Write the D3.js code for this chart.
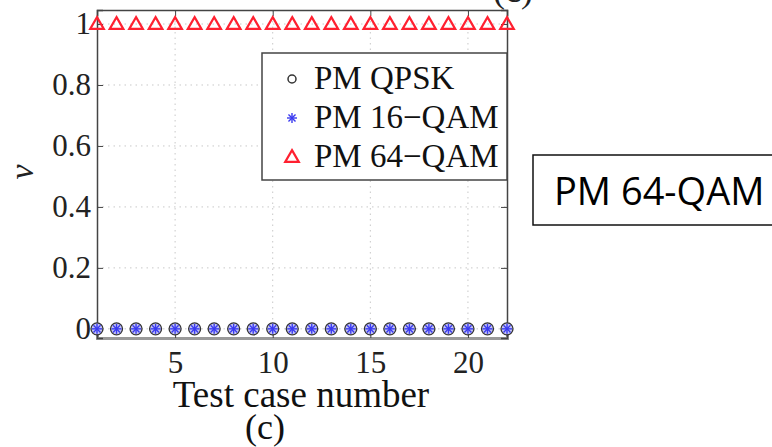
<!DOCTYPE html>
<html>
<head>
<meta charset="utf-8">
<script src="https://cdn.jsdelivr.net/npm/d3@7"></script>
<style>
  body { margin: 0; background: #fff; }
  svg { display: block; }
</style>
</head>
<body>
<svg width="772" height="447"></svg>
<script>
// test cases and detected v values per format
var testCases = [1,2,3,4,5,6,7,8,9,10,11,12,13,14,15,16,17,18,19,20,21,22];
var vQPSK  = [0,0,0,0,0,0,0,0,0,0,0,0,0,0,0,0,0,0,0,0,0,0];
var v16QAM = [0,0,0,0,0,0,0,0,0,0,0,0,0,0,0,0,0,0,0,0,0,0];
var v64QAM = [1,1,1,1,1,1,1,1,1,1,1,1,1,1,1,1,1,1,1,1,1,1];
var xTicks = [5, 10, 15, 20];
var yTicks = [0, 0.2, 0.4, 0.6, 0.8, 1];
var legendNames = ["PM QPSK", "PM 16\u2212QAM", "PM 64\u2212QAM"];

var svg = d3.select("svg"),
    margin = {top: 10, right: 265, bottom: 109, left: 97},
    width = +svg.attr("width") - margin.left - margin.right,
    height = +svg.attr("height") - margin.top - margin.bottom,
    g = svg.append("g").attr("transform", "translate(" + margin.left + "," + margin.top + ")");

var serif = "'Liberation Serif', 'Times New Roman', serif";

var x = d3.scaleLinear().domain([1, 22]).range([0, width]);
var y = d3.scaleLinear().domain([-0.03, 1.046]).range([height, 0]);

// dotted grid
g.selectAll(".gx").data(xTicks).enter().append("line")
    .attr("x1", function(d) { return x(d); }).attr("x2", function(d) { return x(d); })
    .attr("y1", 0).attr("y2", height)
    .attr("stroke", "#c8c8c8").attr("stroke-width", 1).attr("stroke-dasharray", "1.5,4");
g.selectAll(".gy").data(yTicks).enter().append("line")
    .attr("x1", 0).attr("x2", width)
    .attr("y1", function(d) { return y(d); }).attr("y2", function(d) { return y(d); })
    .attr("stroke", "#c8c8c8").attr("stroke-width", 1).attr("stroke-dasharray", "1.5,4");

// axes (inward ticks, matlab style box)
var fmt = function(d) { return d === 0 || d === 1 ? d3.format("d")(d) : d3.format(".1f")(d); };

var xAxis = g.append("g")
    .attr("transform", "translate(0," + height + ")")
    .call(d3.axisBottom(x).tickValues(xTicks).tickSize(-6).tickPadding(13));
var xTop = g.append("g")
    .call(d3.axisTop(x).tickValues(xTicks).tickSize(-6).tickFormat(""));
var yAxis = g.append("g")
    .call(d3.axisLeft(y).tickValues(yTicks).tickSize(-6).tickPadding(6).tickFormat(fmt));
var yRight = g.append("g")
    .attr("transform", "translate(" + width + ",0)")
    .call(d3.axisRight(y).tickValues(yTicks).tickSize(-6).tickFormat(""));

[xAxis, xTop, yAxis, yRight].forEach(function(a) {
  a.select(".domain").attr("stroke", "#444").attr("stroke-width", 1.5);
  a.selectAll(".tick line").attr("stroke", "#444");
  a.selectAll("text").attr("font-family", serif).attr("font-size", 31).attr("fill", "#222");
});
xAxis.select(".domain").attr("stroke", "#999").attr("stroke-width", 3);

// series
var pts = testCases.map(function(t, i) {
  return {t: t, q: vQPSK[i], a16: v16QAM[i], a64: v64QAM[i]};
});

function drawCircle(sel) {
  sel.append("circle").attr("r", 6)
      .attr("fill", "#c4c4f4").attr("stroke", "#333").attr("stroke-width", 1.3);
}
function drawStar(sel) {
  var r = 5;
  [0, 45, 90, 135].forEach(function(a) {
    var rad = a * Math.PI / 180;
    sel.append("line")
        .attr("x1", -r * Math.cos(rad)).attr("y1", -r * Math.sin(rad))
        .attr("x2", r * Math.cos(rad)).attr("y2", r * Math.sin(rad))
        .attr("stroke", "#3a3af0").attr("stroke-width", 1.4);
  });
}
var tri = d3.symbol().type(d3.symbolTriangle).size(80);
function drawTri(sel) {
  sel.append("path").attr("d", tri).attr("transform", "translate(0,1)")
      .attr("fill", "none").attr("stroke", "#ff2030").attr("stroke-width", 2.2);
}

g.selectAll(".pq").data(pts).enter().append("g")
    .attr("transform", function(d) { return "translate(" + x(d.t) + "," + y(d.q) + ")"; })
    .call(drawCircle);
g.selectAll(".p16").data(pts).enter().append("g")
    .attr("transform", function(d) { return "translate(" + x(d.t) + "," + y(d.a16) + ")"; })
    .call(drawStar);
g.selectAll(".p64").data(pts).enter().append("g")
    .attr("transform", function(d) { return "translate(" + x(d.t) + "," + y(d.a64) + ")"; })
    .call(drawTri);

// legend
var lg = svg.append("g");
lg.append("rect")
    .attr("x", 262).attr("y", 53).attr("width", 245).attr("height", 127)
    .attr("fill", "#fff").attr("stroke", "#444").attr("stroke-width", 1.5);
var drawers = [
  function(s) { s.append("circle").attr("r", 4).attr("fill", "none").attr("stroke", "#333").attr("stroke-width", 1.5); },
  drawStar,
  drawTri
];
legendNames.forEach(function(name, i) {
  var row = lg.append("g").attr("transform", "translate(0," + (79 + i * 39) + ")");
  row.append("g").attr("transform", "translate(292,0)").call(drawers[i]);
  row.append("text").attr("x", 314).attr("y", 10)
      .attr("font-family", serif).attr("font-size", 33).attr("fill", "#111")
      .text(name);
});

// axis labels
svg.append("text")
    .attr("transform", "translate(33,172) rotate(-90)")
    .attr("text-anchor", "middle")
    .attr("font-family", serif).attr("font-style", "italic").attr("font-size", 34).attr("fill", "#222")
    .text("v");
svg.append("text")
    .attr("x", 301).attr("y", 407).attr("text-anchor", "middle")
    .attr("font-family", serif).attr("font-size", 37).attr("fill", "#111")
    .text("Test case number");
svg.append("text")
    .attr("x", 265).attr("y", 439).attr("text-anchor", "middle")
    .attr("font-family", serif).attr("font-size", 36).attr("fill", "#111")
    .text("(c)");
svg.append("text")
    .attr("x", 513).attr("y", 2).attr("text-anchor", "middle")
    .attr("font-family", serif).attr("font-size", 36).attr("fill", "#222")
    .text("(c)");

// annotation box on the right
svg.append("rect")
    .attr("x", 533).attr("y", 155).attr("width", 260).attr("height", 70)
    .attr("fill", "#fff").attr("stroke", "#111").attr("stroke-width", 1.5);
svg.append("text")
    .attr("x", 554).attr("y", 205)
    .attr("font-family", "'Open Sans', 'Noto Sans', sans-serif").attr("font-size", 38).attr("fill", "#000")
    .text("PM 64-QAM");
</script>
</body>
</html>
